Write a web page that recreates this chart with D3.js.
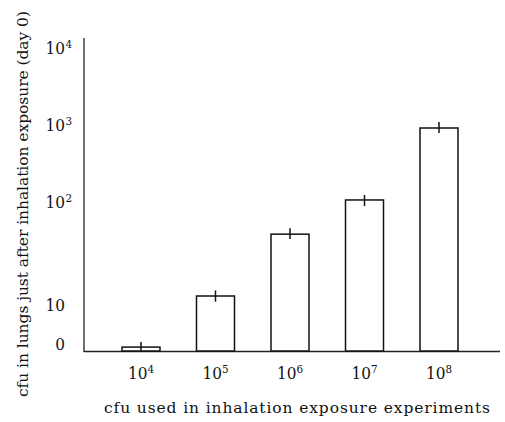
<!DOCTYPE html>
<html><head><meta charset="utf-8">
<script src="https://cdn.jsdelivr.net/npm/d3@7"></script>
<style>body{margin:0;background:#fff}svg{display:block}text{font-family:"DejaVu Serif",serif;fill:#111}.tk{font-family:"DejaVu Serif Condensed","DejaVu Serif",serif}</style>
</head><body><svg id="c" width="505" height="422"></svg>
<script>
const categories = ["4","5","6","7","8"];           // exponents of cfu used: 10^4 ... 10^8
const values     = [1.0, 14.3, 57, 131, 1127];       // cfu in lungs (day 0)
const errLow     = [0, 12.6, 51, 109, 970];
const errHigh    = [2.3, 16.2, 65, 152, 1349];
const yTicks     = [0, 10, 100, 1000, 10000];
const yTickBase  = ["0", "10", "10", "10", "10"];
const yTickExp   = ["", "", "2", "3", "4"];

const svg = d3.select("#c");
// transform: linear 0..10, log above
const tf = v => v <= 10 ? v / 10 : Math.log10(v);
const yLin = d3.scaleLinear().domain([0, 1, 2, 3, 4]).range([351, 312, 209, 132, 55]);
const y = v => yLin(tf(v));

const x = d3.scaleBand().domain(categories).range([84, 496]).paddingInner(0.49).paddingOuter(0.51);

// axes lines
svg.append("line").attr("x1", 84).attr("x2", 84).attr("y1", 38).attr("y2", 351.5).attr("stroke", "#222").attr("stroke-width", 1.3);
svg.append("line").attr("x1", 83.5).attr("x2", 500).attr("y1", 351.5).attr("y2", 351.5).attr("stroke", "#222").attr("stroke-width", 1.3);

// y axis labels
const yAxis = d3.axisLeft(yLin).tickValues(yTicks.map(tf)).tickSize(0).tickPadding(0).tickFormat("");
const gy = svg.append("g").attr("transform", "translate(65,0)").call(yAxis);
gy.select(".domain").remove();
gy.selectAll(".tick text").each(function(d, i) {
  d3.select(this).attr("class", "tk").attr("font-size", 17).attr("dy", "-0.1em").attr("text-anchor", "end").text(yTickBase[i]);
  if (yTickExp[i]) {
    d3.select(this.parentNode).append("text").attr("class", "tk").attr("x", 0.5).attr("y", -8).attr("font-size", 11.5)
      .attr("text-anchor", "start").text(yTickExp[i]);
  }
});

// x axis labels
const xAxis = d3.axisBottom(x).tickSize(0).tickPadding(0).tickFormat("");
const gx = svg.append("g").attr("transform", "translate(0,379)").call(xAxis);
gx.select(".domain").remove();
gx.selectAll(".tick text").each(function(d) {
  const t = d3.select(this).attr("class", "tk").attr("font-size", 17).attr("dy", 0).attr("y", 0).attr("text-anchor", "middle");
  t.append("tspan").text("10");
  t.append("tspan").attr("dy", "-0.5em").attr("font-size", 11.5).text(d);
});

// bars
svg.append("g").selectAll("rect").data(categories).join("rect")
  .attr("x", d => x(d)).attr("width", x.bandwidth())
  .attr("y", (d, i) => y(values[i])).attr("height", (d, i) => y(0) - y(values[i]))
  .attr("fill", "#fff").attr("stroke", "#111").attr("stroke-width", 1.5);

// error bars
svg.append("g").selectAll("line").data(categories).join("line")
  .attr("x1", d => x(d) + x.bandwidth() / 2).attr("x2", d => x(d) + x.bandwidth() / 2)
  .attr("y1", (d, i) => y(errHigh[i])).attr("y2", (d, i) => y(errLow[i]))
  .attr("stroke", "#111").attr("stroke-width", 1.5);

// axis titles
svg.append("text").attr("x", 297).attr("y", 413).attr("text-anchor", "middle").attr("font-size", 15.5)
  .attr("textLength", 386).attr("lengthAdjust", "spacing")
  .text("cfu used in inhalation exposure experiments");
svg.append("text").attr("transform", "translate(28,204) rotate(-90)").attr("text-anchor", "middle").attr("font-size", 15.5)
  .attr("textLength", 386).attr("lengthAdjust", "spacing")
  .text("cfu in lungs just after inhalation exposure (day 0)");
</script></body></html>
